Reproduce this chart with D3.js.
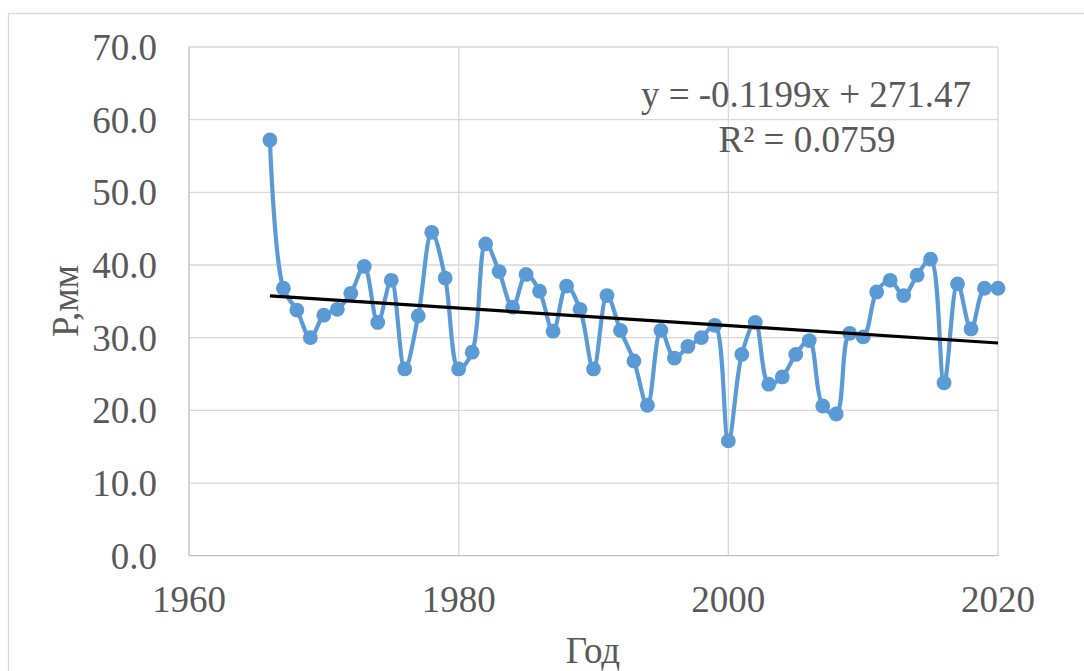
<!DOCTYPE html>
<html><head><meta charset="utf-8">
<script src="https://cdn.jsdelivr.net/npm/d3@7"></script>
<style>
html,body{margin:0;padding:0;background:#fff;}
svg{display:block;}
text{font-family:"Liberation Serif","Times New Roman",serif;fill:#595959;}
</style></head>
<body>
<svg id="chart" width="1084" height="671"></svg>
<script>
const years = d3.range(1966, 2021);
const precip = [57.2,36.8,33.8,30.0,33.1,33.9,36.1,39.8,32.1,37.9,
  25.7,33.0,44.5,38.2,25.7,28.0,42.9,39.1,34.2,38.7,
  36.4,30.9,37.1,33.9,25.7,35.8,31.0,26.8,20.7,31.0,
  27.2,28.8,30.0,31.7,15.8,27.7,32.1,23.6,24.6,27.7,
  29.6,20.6,19.5,30.6,30.1,36.3,37.9,35.8,38.6,40.8,
  23.8,37.4,31.2,36.8,36.8];
const yTicks = [0,10,20,30,40,50,60,70];
const xTicks = [1960,1980,2000,2020];
const trendSlope = -0.1199, trendIntercept = 271.47;
const eqLabel = "y = -0.1199x + 271.47";
const r2Label = "R² = 0.0759";
const xTitle = "Год", yTitle = "Р,мм";

const svg = d3.select("#chart");
const L = 189, R = 998, T = 47, B = 555.7;
const x = d3.scaleLinear().domain([1960,2020]).range([L,R]);
const y = d3.scaleLinear().domain([0,70]).range([B,T]);

// outer frame
svg.append("rect").attr("x",8.5).attr("y",13.5).attr("width",1100).attr("height",700)
  .attr("fill","none").attr("stroke","#d9d9d9").attr("stroke-width",1.3);

// grid
svg.append("g").selectAll("line").data(yTicks.filter(d=>d>0)).join("line")
  .attr("x1",L).attr("x2",R).attr("y1",d=>y(d)).attr("y2",d=>y(d))
  .attr("stroke","#d9d9d9").attr("stroke-width",1.3);
svg.append("g").selectAll("line").data(xTicks.filter(d=>d>1960)).join("line")
  .attr("x1",d=>x(d)).attr("x2",d=>x(d)).attr("y1",T).attr("y2",B)
  .attr("stroke","#d9d9d9").attr("stroke-width",1.3);
// axes lines
svg.append("line").attr("x1",L).attr("x2",L).attr("y1",T).attr("y2",B).attr("stroke","#bfbfbf").attr("stroke-width",1.3);
svg.append("line").attr("x1",L).attr("x2",R).attr("y1",B).attr("y2",B).attr("stroke","#bfbfbf").attr("stroke-width",1.3);

// tick labels
svg.append("g").selectAll("text").data(yTicks).join("text")
  .attr("x",157).attr("y",d=>y(d)).attr("dy","0.35em").attr("text-anchor","end")
  .attr("font-size",37).text(d=>d.toFixed(1));
svg.append("g").selectAll("text").data(xTicks).join("text")
  .attr("x",d=>x(d)).attr("y",612).attr("text-anchor","middle")
  .attr("font-size",37).text(d=>d);

// titles
svg.append("text").attr("x",593).attr("y",663).attr("text-anchor","middle").attr("font-size",37).text(xTitle);
svg.append("text").attr("transform","translate(78,301) rotate(-90)").attr("text-anchor","middle").attr("font-size",37).text(yTitle);

// series
const data = years.map((yr,i)=>({yr, v:precip[i]}));
svg.append("path").datum(data)
  .attr("d", d3.line().x(d=>x(d.yr)).y(d=>y(d.v)).curve(d3.curveCatmullRom.alpha(0.5)))
  .attr("fill","none").attr("stroke","#5b9bd5").attr("stroke-width",4.2).attr("stroke-linejoin","round");
svg.append("g").selectAll("circle").data(data).join("circle")
  .attr("cx",d=>x(d.yr)).attr("cy",d=>y(d.v)).attr("r",7.4).attr("fill","#5b9bd5");

// trend line
const tr = [1966,2020].map(yr=>({yr, v: trendSlope*yr + trendIntercept}));
svg.append("path").datum(tr)
  .attr("d", d3.line().x(d=>x(d.yr)).y(d=>y(d.v)))
  .attr("stroke","#000").attr("stroke-width",3.2).attr("fill","none");

// equation
svg.append("text").attr("x",806).attr("y",107).attr("text-anchor","middle").attr("font-size",37).text(eqLabel);
svg.append("text").attr("x",807).attr("y",152).attr("text-anchor","middle").attr("font-size",37).text(r2Label);
</script>
</body></html>
